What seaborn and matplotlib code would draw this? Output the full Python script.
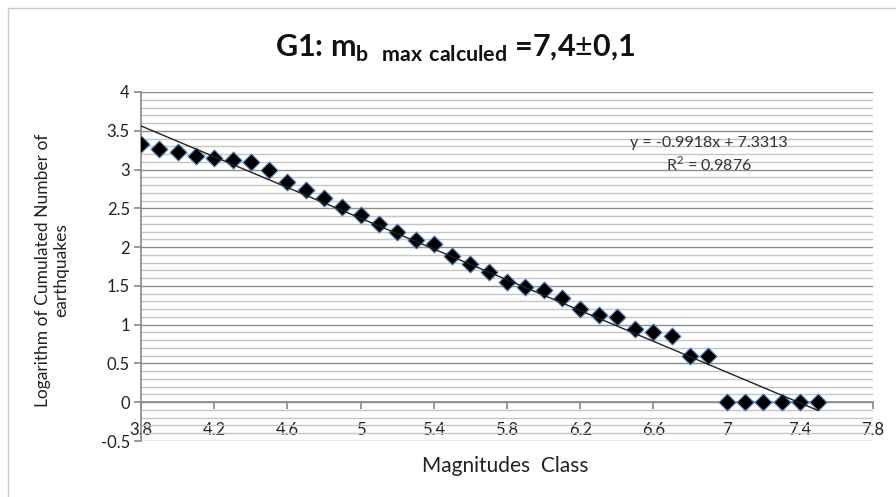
import numpy as np
import pandas as pd
import matplotlib
matplotlib.use("Agg")
import matplotlib.pyplot as plt
from matplotlib.patches import Rectangle
from matplotlib.ticker import MultipleLocator
import seaborn as sns

magnitudes = [3.8, 3.9, 4.0, 4.1, 4.2, 4.3, 4.4, 4.5, 4.6, 4.7, 4.8, 4.9,
              5.0, 5.1, 5.2, 5.3, 5.4, 5.5, 5.6, 5.7, 5.8, 5.9, 6.0, 6.1,
              6.2, 6.3, 6.4, 6.5, 6.6, 6.7, 6.8, 6.9, 7.0, 7.1, 7.2, 7.3,
              7.4, 7.5]
log_counts = [3.33, 3.26, 3.23, 3.18, 3.15, 3.12, 3.10, 3.00, 2.84, 2.73,
              2.63, 2.52, 2.42, 2.30, 2.19, 2.09, 2.04, 1.88, 1.78, 1.68,
              1.55, 1.48, 1.45, 1.34, 1.20, 1.13, 1.10, 0.95, 0.90, 0.85,
              0.60, 0.60, 0.0, 0.0, 0.0, 0.0, 0.0, 0.0]
trend_slope = -0.9918
trend_intercept = 7.3313
r_squared = 0.9876
x_ticks = [3.8, 4.2, 4.6, 5.0, 5.4, 5.8, 6.2, 6.6, 7.0, 7.4, 7.8]
x_tick_labels = ["3.8", "4.2", "4.6", "5", "5.4", "5.8", "6.2", "6.6", "7", "7.4", "7.8"]
y_ticks = [-0.5, 0, 0.5, 1, 1.5, 2, 2.5, 3, 3.5, 4]
y_tick_labels = ["-0.5", "0", "0.5", "1", "1.5", "2", "2.5", "3", "3.5", "4"]

df = pd.DataFrame({"mag": magnitudes, "logn": log_counts})

sns.set_theme(style="white")
plt.rcParams["font.family"] = ["Lato", "DejaVu Sans"]
plt.rcParams["mathtext.fontset"] = "custom"
plt.rcParams["mathtext.rm"] = "Lato"
plt.rcParams["mathtext.bf"] = "Lato:bold"

fig = plt.figure(figsize=(8.96, 4.97), dpi=100)
fig.patch.set_facecolor("white")
ax = fig.add_axes([141/896, 1-441/497, (873-141)/896, (441-92)/497])

# outer chart frame
fig.add_artist(Rectangle((8/896, -0.1), 1.2, (497-8)/497 + 0.1, transform=fig.transFigure,
                         fill=False, edgecolor="#c8c8c8", lw=1.0))

ax.set_xlim(3.8, 7.8)
ax.set_ylim(-0.5, 4)

# gridlines
ax.yaxis.set_minor_locator(MultipleLocator(0.1))
ax.grid(which="minor", axis="y", color="#c4c4c4", lw=1.0)
ax.grid(which="major", axis="y", color="#8c8c8c", lw=1.0)
ax.set_axisbelow(True)

sns.scatterplot(data=df, x="mag", y="logn", marker="D", s=75, color="black",
                edgecolor="#5b8cc8", linewidth=0.8, ax=ax, zorder=3)

xs = np.array([magnitudes[0], magnitudes[-1]])
ax.plot(xs, trend_slope * xs + trend_intercept, color="#222222", lw=1.0, zorder=4)

ax.set_xticks(x_ticks)
ax.set_xticklabels(x_tick_labels)
ax.set_yticks(y_ticks)
ax.set_yticklabels(y_tick_labels)

for s in ["top", "right"]:
    ax.spines[s].set_visible(False)
ax.spines["left"].set_color("#8c8c8c")
ax.spines["bottom"].set_position(("data", 0))
ax.spines["bottom"].set_color("#8c8c8c")
ax.tick_params(axis="x", which="major", direction="out", length=5, color="#8c8c8c",
               labelsize=12, pad=9, labelcolor="#222222", bottom=True)
ax.tick_params(axis="y", which="major", direction="out", length=5, color="#8c8c8c",
               labelsize=12, pad=3, labelcolor="#222222", left=True)
ax.tick_params(axis="y", which="minor", left=False)

ax.set_xlabel("")
ax.set_ylabel("")
fig.text(505/896, 1-466/497, "Magnitudes  Class", ha="center", va="center",
         fontsize=15, color="#222222")
fig.text(52/896, 1-270/497, "Logarithm of Cumulated Number of\nearthquakes", ha="center",
         va="center", rotation=90, fontsize=12.5, color="#222222", linespacing=1.15)

fig.text(455/896, 1-48/497,
         r"G1: m$_{\mathbf{b\ \ max\ calculed}}$ =7,4$\pm$0,1",
         ha="center", va="center", fontsize=22, fontweight="bold", color="#111111")

fig.text(709/896, 1-143/497, f"y = {trend_slope}x + {trend_intercept}",
         ha="center", va="center", fontsize=11.5, color="#333333")
fig.text(709/896, 1-164/497, f"R$^2$ = {r_squared}", ha="center",
         va="center", fontsize=11.5, color="#333333")

fig.savefig("out.png", dpi=100, facecolor="white")
